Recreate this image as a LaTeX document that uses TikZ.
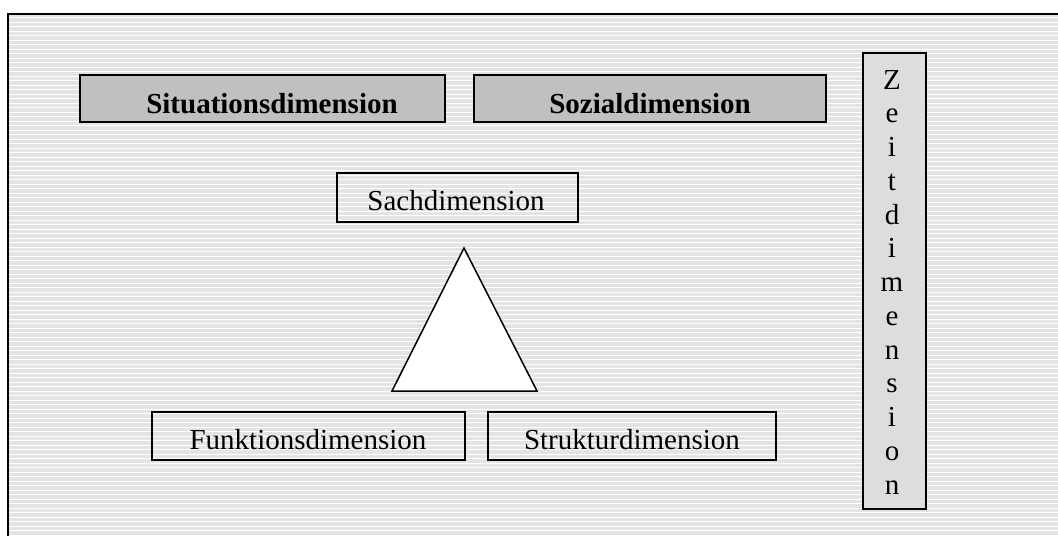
\documentclass[tikz,border=0pt]{standalone}
\usepackage{fontspec}
\setmainfont{Liberation Serif}
\definecolor{bgstripe}{RGB}{228,228,228}
\definecolor{darkbox}{RGB}{192,192,192}
\definecolor{lightbox}{RGB}{221,221,221}
\begin{document}
\begin{tikzpicture}[x=1pt,y=-1pt,
  dimbox/.style={draw=black,line width=1.5pt},
  txt/.style={inner sep=0pt,anchor=base,font=\fontsize{29}{33.75}\selectfont},
  btxt/.style={txt,font=\fontsize{29}{33.75}\selectfont\bfseries}]
\useasboundingbox (0,0) rectangle (1058,536);
% background with stripes
\fill[bgstripe] (8,14) rectangle (1058,536);
\foreach \i in {0,...,115} {
  \fill[white] (9,{17+\i*4.5}) rectangle (1058,{18.4+\i*4.5});
}
\draw[line width=2pt] (8,536) -- (8,14) -- (1058,14);
% boxes
\draw[dimbox,fill=darkbox] (80,75) rectangle (445,122);
\node[btxt] (sit) at (272,113) {Situationsdimension};
\draw[dimbox,fill=darkbox] (474,75) rectangle (826,122);
\node[btxt] (soz) at (650,113) {Sozialdimension};
\draw[dimbox,fill=lightbox] (863,53) rectangle (926,509);
\node[txt,align=center,anchor=north] (zeit) at (892,70)
  {Z\\e\\i\\t\\d\\i\\m\\e\\n\\s\\i\\o\\n};
\draw[dimbox] (337,173) rectangle (578,222);
\node[txt] (sach) at (456,210) {Sachdimension};
\draw[line width=1.5pt,fill=white,line join=miter] (464,248) -- (537,391) -- (392,391) -- cycle;
\draw[dimbox] (152,412) rectangle (465,460);
\node[txt] (funk) at (308,449) {Funktionsdimension};
\draw[dimbox] (488,412) rectangle (776,460);
\node[txt] (strk) at (632,449) {Strukturdimension};
\end{tikzpicture}
\end{document}
